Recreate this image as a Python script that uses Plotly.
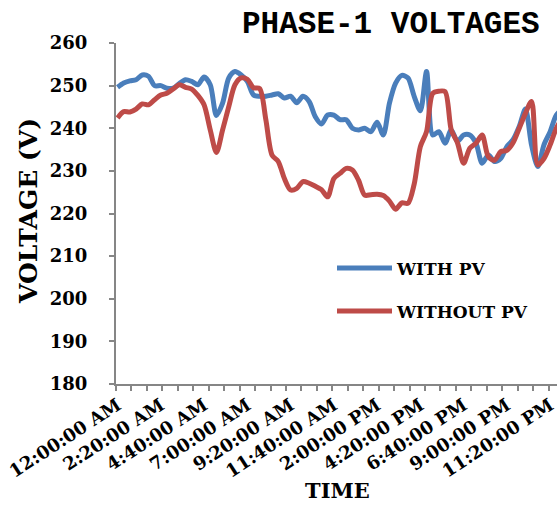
import plotly.graph_objects as go

# Sample times (minutes after midnight, 20-minute steps)
minutes = list(range(0, 1441, 20))

with_pv = [249.6, 250.6, 251.1, 251.4, 252.5, 252.2, 250.0, 250.0, 249.4, 249.4,
           250.5, 251.4, 251.0, 250.2, 252.0, 250.2, 243.0, 245.9, 251.8, 253.3,
           252.5, 251.0, 247.8, 247.5, 247.5, 247.8, 248.1, 247.1, 247.5, 246.0,
           247.5, 246.3, 242.7, 241.0, 243.1, 243.1, 242.0, 242.0, 240.0, 239.6,
           240.0, 239.2, 241.4, 238.4, 245.9, 250.6, 252.4, 251.8, 247.5, 244.1,
           253.3, 238.4, 239.2, 236.5, 239.6, 236.9, 238.4, 238.4, 236.5, 231.8,
           233.7, 232.2, 232.9, 235.7, 237.3, 240.4, 244.5, 236.0, 231.0, 236.1,
           239.2, 243.1, 244.5]

without_pv = [242.4, 243.9, 243.8, 244.5, 245.7, 245.5, 246.7, 247.8, 248.2, 249.2,
              250.2, 249.6, 249.2, 247.7, 245.5, 239.6, 234.3, 239.6, 245.1, 250.2,
              251.8, 251.5, 249.5, 249.3, 242.0, 233.7, 232.2, 228.2, 225.5, 225.9,
              227.5, 227.1, 226.4, 225.6, 223.9, 228.2, 229.4, 230.6, 230.2, 227.8,
              224.3, 224.4, 224.5, 224.2, 222.9, 221.0, 222.5, 222.4, 226.9, 235.7,
              239.2, 248.2, 248.7, 248.6, 239.6, 236.6, 231.8, 235.3, 236.5, 238.4,
              233.3, 232.5, 234.5, 234.8, 236.6, 240.0, 243.5, 246.3, 231.4, 232.9,
              236.1, 240.0, 242.5]

tick_minutes = [0, 140, 280, 420, 560, 700, 840, 980, 1120, 1260, 1400]
tick_labels = ["12:00:00 AM", "2:20:00 AM", "4:40:00 AM", "7:00:00 AM", "9:20:00 AM",
               "11:40:00 AM", "2:00:00 PM", "4:20:00 PM", "6:40:00 PM", "9:00:00 PM",
               "11:20:00 PM"]

series_names = ["WITH PV", "WITHOUT PV"]
series_colors = ["#4A7EBB", "#BE4B48"]

SERIF = "DejaVu Serif"
AXIS_COLOR = "#868686"

fig = go.Figure()
for name, vals, col in zip(series_names, [with_pv, without_pv], series_colors):
    fig.add_trace(go.Scatter(
        x=minutes, y=vals, mode="lines", name=name, legendgroup=name,
        line=dict(color=col, width=5, shape="spline", smoothing=0.8),
    ))

fig.update_layout(
    width=557, height=505,
    margin=dict(l=116, r=0, t=43, b=121, autoexpand=False),
    plot_bgcolor="white", paper_bgcolor="white",
    showlegend=True,
    legend=dict(
        x=(332 - 116) / 441, y=0.392, xanchor="left", yanchor="top",
        font=dict(family=SERIF, size=17, color="black", weight="bold"),
        bgcolor="rgba(0,0,0,0)", tracegroupgap=18, itemwidth=55,
    ),
    annotations=[
        dict(text="PHASE-1 VOLTAGES", xref="paper", yref="paper",
             x=(391 - 116) / 441, y=(384 - 24) / 341, xanchor="center", yanchor="middle",
             showarrow=False,
             font=dict(family="Liberation Mono", size=31, color="black", weight="bold")),
        dict(text="VOLTAGE (V)", xref="paper", yref="paper",
             x=(28 - 116) / 441, y=(384 - 211) / 341, xanchor="center", yanchor="middle",
             textangle=-90, showarrow=False,
             font=dict(family=SERIF, size=25, color="black", weight="bold")),
        dict(text="TIME", xref="paper", yref="paper",
             x=(337 - 116) / 441, y=(384 - 490) / 341, xanchor="center", yanchor="middle",
             showarrow=False,
             font=dict(family=SERIF, size=21, color="black", weight="bold")),
    ],
)

fig.update_xaxes(
    automargin=False,
    range=[-5, 1422.2],
    tickmode="array", tickvals=tick_minutes, ticktext=tick_labels,
    tickangle=-33, ticks="", ticklabeloverflow="allow", ticklabelstandoff=2,
    tickfont=dict(family=SERIF, size=18, color="black", weight="bold"),
    showline=True, linecolor=AXIS_COLOR, linewidth=2,
    showgrid=False, zeroline=False,
    minor=dict(ticks="outside", tick0=-5, dtick=50, ticklen=5, tickcolor=AXIS_COLOR,
               tickwidth=1.5, showgrid=False),
)

fig.update_yaxes(
    automargin=False,
    range=[180, 260], dtick=10, tick0=180,
    ticks="outside", ticklen=5, tickcolor=AXIS_COLOR, tickwidth=1.5,
    tickfont=dict(family=SERIF, size=18, color="black", weight="bold"),
    ticklabelstandoff=18,
    showline=True, linecolor=AXIS_COLOR, linewidth=2,
    showgrid=False, zeroline=False,
)

fig.write_html(
    "out.html",
    config={"displayModeBar": False},
    post_script="document.body.style.margin='0';document.body.style.overflow='hidden';",
)
